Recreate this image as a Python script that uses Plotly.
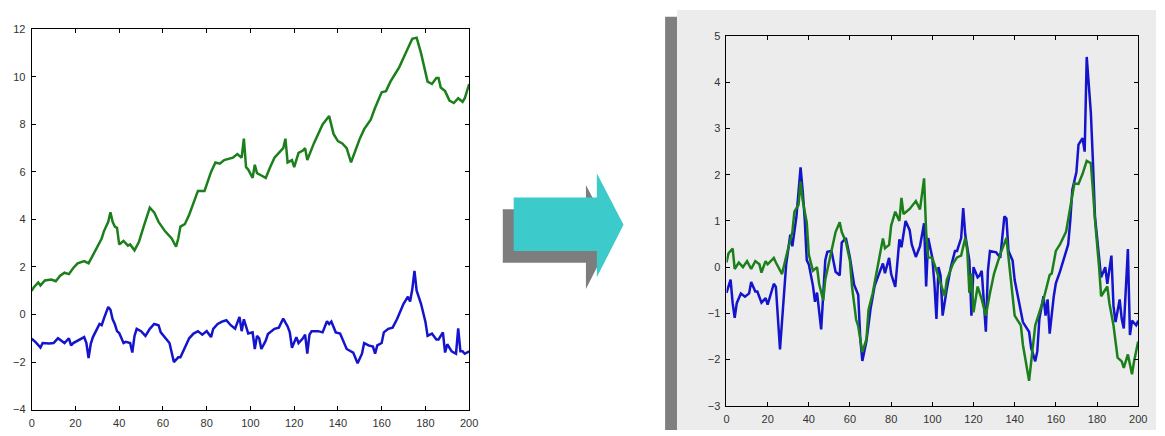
import plotly.graph_objects as go

W, H = 1165, 436

# ---- raw series (x, value) ----
left_green = [(0,1.0),(1,1.15),(3,1.35),(4,1.22),(6,1.43),(9,1.47),(11,1.4),(13,1.63),(15,1.76),(17,1.7),
              (19,1.96),(21,2.15),(24,2.25),(26,2.15),(28,2.5),(30,2.85),(32,3.2),(33,3.5),(35,3.9),(36,4.3),
              (37,3.9),(38,3.7),(39,3.65),(40,2.95),(42,3.1),(44,2.9),(45,2.95),(47,2.7),(49,3.05),(51,3.65),
              (53,4.2),(54,4.5),(56,4.3),(58,3.9),(61,3.5),(64,3.2),(66,2.85),(67,3.2),(68,3.7),(70,3.8),
              (72,4.2),(73,4.45),(75,5.0),(76,5.2),(79,5.2),(82,6.0),(84,6.4),(86,6.35),(88,6.5),(90,6.55),
              (92,6.6),(94,6.75),(96,6.6),(97,7.4),(98,6.2),(99,6.1),(101,5.75),(102,6.3),(103,5.95),(105,5.85),
              (107,5.75),(109,6.2),(111,6.6),(113,6.8),(115,7.0),(116,7.4),(117,6.4),(119,6.5),(120,6.2),(122,6.8),
              (124,6.9),(125,7.0),(126,6.5),(129,7.2),(131,7.6),(133,8.0),(136,8.35),(138,7.6),(140,7.3),(142,7.2),
              (144,7.0),(146,6.4),(148,6.9),(150,7.4),(152,7.8),(155,8.2),(157,8.7),(160,9.35),(162,9.4),(164,9.8),
              (166,10.1),(168,10.4),(171,11.0),(174,11.6),(176,11.65),(178,11.0),(181,9.8),(183,9.7),(185,9.95),
              (186,9.95),(187,9.55),(189,9.4),(191,9.0),(193,8.9),(195,9.1),(197,8.95),(198,9.1),(200,9.7)]

left_blue = [(0,-1.02),(2,-1.18),(4,-1.39),(5,-1.2),(8,-1.22),(10,-1.2),(12,-1.0),(15,-1.2),(17,-1.0),(18,-1.3),
             (19,-1.2),(22,-1.05),(24,-0.95),(25,-1.2),(26,-1.83),(27,-1.23),(28,-0.95),(31,-0.4),(32,-0.45),(33,-0.17),
             (35,0.32),(36,0.2),(37,-0.2),(38,-0.4),(39,-0.7),(40,-0.78),(42,-1.2),(43,-1.15),(45,-1.2),(46,-1.6),
             (47,-0.9),(48,-0.6),(50,-0.7),(52,-0.9),(54,-0.6),(56,-0.4),(58,-0.45),(59,-0.75),(61,-0.97),(63,-1.2),
             (64,-1.6),(65,-2.0),(67,-1.8),(68,-1.8),(70,-1.4),(72,-1.0),(74,-0.8),(76,-0.7),(78,-0.85),(80,-0.7),
             (82,-0.95),(83,-0.6),(85,-0.4),(87,-0.3),(89,-0.24),(91,-0.45),(93,-0.6),(95,-0.1),(96,-0.7),(97,-0.2),
             (98,-0.5),(99,-0.8),(101,-0.75),(102,-1.45),(103,-0.9),(104,-1.0),(105,-1.45),(107,-1.1),(108,-0.82),
             (111,-0.6),(113,-0.55),(115,-0.17),(117,-0.5),(118,-0.75),(119,-1.4),(121,-0.95),(122,-1.2),(124,-1.0),
             (125,-0.85),(126,-1.65),(127,-0.85),(128,-0.7),(131,-0.7),(133,-0.75),(135,-0.28),(136,-0.4),(137,-0.3),
             (139,-0.75),(141,-0.8),(143,-1.2),(144,-1.45),(147,-1.6),(148,-1.8),(149,-2.05),(151,-1.65),(152,-1.2),
             (154,-1.3),(156,-1.35),(157,-1.65),(158,-1.3),(160,-1.2),(161,-0.75),(163,-0.6),(165,-0.55),(167,-0.2),
             (169,0.24),(170,0.45),(172,0.75),(173,0.55),(174,1.06),(175,1.84),(176,1.0),(178,0.45),(180,-0.3),
             (181,-0.9),(183,-0.8),(185,-1.05),(186,-1.05),(188,-0.75),(189,-1.6),(190,-1.25),(192,-1.55),(194,-1.65),
             (195,-0.58),(196,-1.55),(197,-1.55),(198,-1.65),(200,-1.55)]

right_blue = [(0,-0.56),(2,-0.27),(3,-0.78),(4,-1.1),(5,-0.78),(7,-0.57),(9,-0.64),(11,-0.57),(12,-0.32),(14,-0.53),
              (15,-0.53),(17,-0.77),(19,-0.67),(20,-0.81),(23,-0.36),(24,-0.43),(26,-1.78),(28,-0.53),(29,0.06),(31,0.7),
              (32,0.45),(34,1.1),(36,2.16),(37,1.66),(38,1.05),(39,0.15),(40,0.06),(42,-0.4),(43,-0.75),(44,-0.55),
              (46,-1.35),(48,0.15),(49,0.33),(51,0.35),(53,-0.1),(55,-0.18),(56,0.53),(58,0.63),(60,0.2),(62,-0.38),
              (64,-0.6),(65,-1.55),(66,-2.03),(68,-1.6),(70,-0.9),(72,-0.4),(75,-0.04),(76,0.08),(77,-0.13),(79,0.2),
              (80,-0.15),(82,-0.43),(84,0.6),(85,0.43),(87,1.0),(89,0.8),(90,0.49),(92,0.22),(94,0.45),(96,0.95),
              (97,-0.42),(98,0.63),(100,0.2),(101,-0.35),(102,-1.12),(103,0.0),(104,-0.18),(105,-1.05),(107,-0.48),
              (109,0.0),(111,0.35),(112,0.35),(114,0.63),(115,1.28),(116,0.7),(118,0.14),(119,-1.05),(120,0.0),
              (122,-0.22),(123,-0.18),(124,-0.08),(126,-1.4),(127,-0.08),(128,0.35),(131,0.32),(133,0.2),(135,1.1),
              (136,1.05),(137,0.35),(139,0.14),(140,-0.28),(142,-0.7),(144,-1.19),(146,-1.33),(147,-1.4),(148,-1.75),
              (150,-2.04),(151,-1.82),(152,-1.12),(154,-0.63),(155,-1.05),(156,-0.7),(157,-1.44),(159,-0.63),
              (160,-0.35),(162,-0.1),(164,0.21),(166,0.49),(167,1.0),(168,1.67),(170,2.06),(171,2.65),(173,2.79),
              (174,2.5),(175,4.55),(177,3.35),(178,2.3),(179,1.1),(181,0.21),(182,-0.22),(184,0.0),(185,-0.36),
              (187,0.25),(188,-0.84),(189,-1.19),(191,-0.7),(192,-1.12),(193,-1.33),(195,0.39),(196,-1.47),
              (197,-1.16),(199,-1.26),(200,-1.16)]

right_green = [(0,0.1),(1,0.3),(3,0.4),(4,-0.04),(6,0.1),(8,0.0),(10,0.13),(12,-0.04),(14,0.13),(16,0.06),
               (17,-0.12),(19,0.13),(20,0.06),(23,0.2),(24,0.1),(27,-0.15),(29,0.23),(32,0.76),(33,1.2),(35,1.35),
               (36,1.85),(37,1.45),(39,0.97),(40,0.27),(42,-0.08),(44,0.0),(45,-0.36),(47,-0.72),(48,-0.27),(51,0.34),
               (53,0.76),(55,0.97),(56,0.76),(58,0.55),(60,0.13),(61,-0.43),(63,-1.14),(64,-1.28),(66,-1.84),(68,-1.56),
               (69,-0.93),(71,-0.57),(73,-0.08),(76,0.62),(77,0.41),(79,0.48),(80,0.9),(82,1.2),(84,1.0),(85,1.5),
               (86,1.15),(89,1.26),(92,1.43),(94,1.25),(96,1.92),(97,0.76),(98,0.21),(100,0.2),(102,-0.07),(104,-0.35),
               (106,-0.63),(107,-0.28),(110,0.07),(112,0.21),(114,0.25),(116,0.63),(117,0.35),(118,-0.56),(119,-0.14),
               (120,-0.98),(122,-0.42),(124,-0.7),(126,-1.05),(128,-0.56),(130,-0.14),(133,0.28),(135,0.49),(136,0.63),
               (137,0.21),(139,-0.56),(140,-1.05),(143,-1.26),(144,-1.68),(147,-2.46),(148,-2.04),(150,-1.26),
               (153,-0.84),(154,-0.7),(157,-0.17),(158,-0.14),(160,0.35),(162,0.49),(165,0.77),(166,1.05),(167,1.25),
               (169,1.81),(171,1.8),(173,2.02),(175,2.3),(177,2.25),(178,1.67),(179,1.03),(181,0.0),(182,-0.63),
               (185,-0.42),(186,-0.78),(188,-1.26),(190,-1.96),(192,-2.04),(193,-2.18),(195,-1.89),(197,-2.32),
               (198,-2.04),(200,-1.61)]

left_ticks_y = [-4, -2, 0, 2, 4, 6, 8, 10, 12]
right_ticks_y = [-3, -2, -1, 0, 1, 2, 3, 4, 5]
ticks_x = [0, 20, 40, 60, 80, 100, 120, 140, 160, 180, 200]

BLUE = "#1414cc"
GREEN = "#1b801b"
FONT = "Liberation Sans, Arial, sans-serif"


def px(x):
    return x / W


def py(y):
    return 1 - y / H


def poly(points):
    return "M " + " L ".join(f"{px(x):.5f},{py(y):.5f}" for x, y in points) + " Z"


def split(series):
    return [p[0] for p in series], [p[1] for p in series]


fig = go.Figure()
for data, color, xa, ya in [(left_blue, BLUE, "x", "y"), (left_green, GREEN, "x", "y"),
                            (right_blue, BLUE, "x2", "y2"), (right_green, GREEN, "x2", "y2")]:
    xs, ys = split(data)
    fig.add_trace(go.Scatter(x=xs, y=ys, mode="lines", xaxis=xa, yaxis=ya,
                             line=dict(color=color, width=2.5), showlegend=False,
                             hoverinfo="skip"))

axis_style = dict(showline=True, linecolor="black", linewidth=1, mirror="allticks",
                  ticks="inside", ticklen=4, tickcolor="black", tickwidth=1,
                  showgrid=False, zeroline=False,
                  tickfont=dict(family=FONT, size=11, color="#333333"))

# arrow: body + head outline, shadow copy offset down-left
arrow = [(516, 197), (600, 197), (600, 172), (627, 225), (600, 279), (600, 252), (516, 252)]
shadow = [(x - 11, y + 12) for x, y in arrow]

shapes = [
    dict(type="rect", xref="paper", yref="paper", x0=px(681), x1=1, y0=0, y1=py(4),
         fillcolor="#ececec", line=dict(width=0), layer="below"),
    dict(type="rect", xref="paper", yref="paper", x0=px(669), x1=px(681), y0=0, y1=py(11),
         fillcolor="#7f7f7f", line=dict(width=0), layer="below"),
    dict(type="path", xref="paper", yref="paper", path=poly(shadow),
         fillcolor="#7d7d7d", line=dict(width=0), layer="below"),
    dict(type="path", xref="paper", yref="paper", path=poly(arrow),
         fillcolor="#3ccaca", line=dict(width=0), layer="below"),
]

fig.update_layout(
    width=W, height=H, margin=dict(l=0, r=0, t=0, b=0),
    paper_bgcolor="white", plot_bgcolor="rgba(0,0,0,0)",
    shapes=shapes,
    xaxis=dict(domain=[px(29), px(471)], range=[0, 200], tickvals=ticks_x, anchor="y",
               ticklabelstandoff=3, **axis_style),
    yaxis=dict(domain=[py(415), py(24)], range=[-4, 12], tickvals=left_ticks_y, anchor="x",
               ticklabelstandoff=3, **axis_style),
    xaxis2=dict(domain=[px(731), px(1147)], range=[0, 200], tickvals=ticks_x, anchor="y2",
                ticklabelstandoff=3, **axis_style),
    yaxis2=dict(domain=[py(411), py(31)], range=[-3, 5], tickvals=right_ticks_y, anchor="x2",
                ticklabelstandoff=3, **axis_style),
)

fig.write_html("out.html")
